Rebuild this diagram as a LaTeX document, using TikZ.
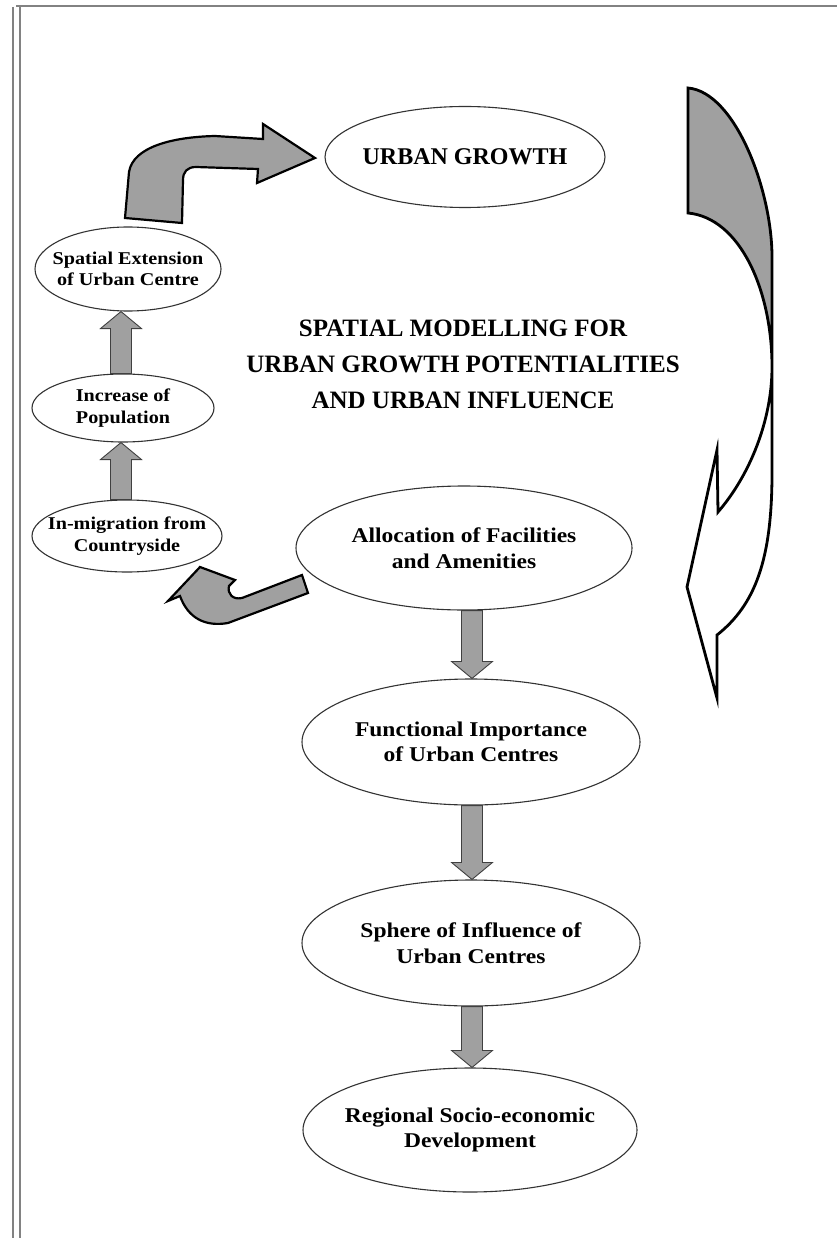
\documentclass[tikz,border=0pt]{standalone}
\usepackage{fontspec}
\setmainfont{Liberation Serif}
\newfontfamily\wideserif{Liberation Serif}[FakeStretch=1.12]
\usetikzlibrary{shapes.geometric,calc}

\definecolor{arrowgray}{RGB}{160,160,160}
\definecolor{framegray}{RGB}{130,130,130}

% straight block arrow between two points on one vertical line
\newcommand{\blockarrow}[2]{%
  \draw[blockarrow] let \p1=(#1), \p2=(#2), \p3=($(#2)!17pt!(#1)$) in
    (\x1-10.5pt,\y1) -- (\x1-10.5pt,\y3) -- (\x1-20.5pt,\y3) -- (\x1,\y2)
    -- (\x1+20.5pt,\y3) -- (\x1+10.5pt,\y3) -- (\x1+10.5pt,\y1) -- cycle;}

\begin{document}
\begin{tikzpicture}[x=1pt,y=-1pt]
        \tikzstyle{every node}=[inner sep=0pt]
        \tikzstyle{bubble}=[draw=black!80, line width=1.1pt, ellipse, align=center, fill=white, inner xsep=-80pt, inner ysep=-30pt]
        \tikzstyle{smallbubble}=[bubble, font=\wideserif\bfseries\fontsize{18}{21.5}\selectfont]
        \tikzstyle{bigbubble}=[bubble, font=\wideserif\bfseries\fontsize{21}{25.5}\selectfont]
        \tikzstyle{blockarrow}=[fill=arrowgray, draw=black!75, line width=0.9pt]
        \tikzstyle{bentarrow}=[fill=arrowgray, draw=black, line width=2.2pt, line join=miter]
        \useasboundingbox[fill=white] (0,0) rectangle (837,1238);
        % page frame
        \draw[framegray, line width=2.5pt] (13,7) -- (13,1238);
        \draw[framegray, line width=2.5pt] (20,7) -- (20,1238);
        \draw[framegray, line width=2.5pt] (16,6) -- (837,6);
        % nodes
        \node[bubble, minimum width=280, minimum height=101, font=\bfseries\fontsize{24}{28}\selectfont] (growth) at (465,157) {URBAN GROWTH};
        \node[align=center, font=\bfseries\fontsize{25}{36}\selectfont] (title) at (463,364) {SPATIAL MODELLING FOR\\URBAN GROWTH POTENTIALITIES\\AND URBAN INFLUENCE};
        \node[smallbubble, minimum width=186, minimum height=84] (spa) at (128,269) {Spatial Extension\\of Urban Centre};
        \node[smallbubble, minimum width=182, minimum height=68] (inc) at (123,408) {Increase of\\Population};
        \node[smallbubble, minimum width=190, minimum height=72] (inm) at (127,536) {In-migration from\\Countryside};
        \node[bigbubble, minimum width=336, minimum height=124] (alloc) at (464,548) {Allocation of Facilities\\and Amenities};
        \node[bigbubble, minimum width=338, minimum height=126] (func) at (471,742) {Functional Importance\\of Urban Centres};
        \node[bigbubble, minimum width=338, minimum height=126] (sphere) at (471,943) {Sphere of Influence of\\Urban Centres};
        \node[bigbubble, minimum width=334, minimum height=124] (region) at (470,1130) {Regional Socio-economic\\Development};
        \coordinate (lcol) at (121,0);
        \coordinate (rcol) at (472,0);
        % straight arrows
        \blockarrow{inm.north -| lcol}{inc.south -| lcol}
        \blockarrow{inc.north -| lcol}{spa.south -| lcol}
        \blockarrow{alloc.south -| rcol}{func.north -| rcol}
        \blockarrow{func.south -| rcol}{sphere.north -| rcol}
        \blockarrow{sphere.south -| rcol}{region.north -| rcol}
        % bent arrows
        \draw[bentarrow] (125,218) -- (129,172) .. controls (133,147) and (172,137) .. (215,136) -- (263,139) -- (263,124) -- (315,158) -- (257,183) -- (258,169) -- (196,167) .. controls (187,167) and (183,172) .. (183,180) -- (182,223) -- cycle;
        \draw[bentarrow] (302,575) -- (242,598) .. controls (233,600) and (227,594) .. (229,586) -- (235,580) -- (200,567) -- (168,601) -- (180,596) .. controls (188,618) and (205,627) .. (228,623) -- (308,593) -- cycle;
        % big curved arrow on the right
        \fill[arrowgray] (688,88) .. controls (735,92) and (772,190) .. (772,257) -- (772,367) .. controls (772,290) and (740,218) .. (688,213) -- cycle;
        \draw[line width=2.8pt, line join=miter] (688,88) .. controls (735,92) and (772,190) .. (772,257) -- (772,473) .. controls (772,560) and (755,605) .. (717,635) -- (717,698) -- (687,587) -- (717,450) -- (718,512) .. controls (750,475) and (772,420) .. (772,367) .. controls (772,290) and (740,218) .. (688,213) -- cycle;
    \end{tikzpicture}
\end{document}
